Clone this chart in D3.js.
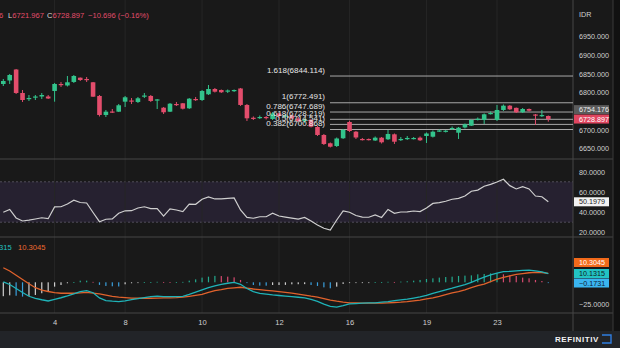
<!DOCTYPE html>
<html>
<head>
<meta charset="utf-8">
<script src="https://cdn.jsdelivr.net/npm/d3@7/dist/d3.min.js"></script>
<style>
html,body{margin:0;padding:0;background:#191919;overflow:hidden;}
svg{display:block;}
text{font-family:'Liberation Sans',Arial,sans-serif;}
</style>
</head>
<body>
<svg id="chart" width="620" height="348"></svg>
<script>
// ---------- DATA ----------
const openP=[6822.8,6832.2,6861.6,6798.7,6782.6,6786.7,6789.3,6789.3,6804.1,6822.8,
 6818.8,6828.2,6839.7,6836.2,6827.4,6790.7,6739.8,6749.1,6748.6,6775.4,
 6778.6,6774.6,6790.1,6790.7,6779.4,6759.3,6748.6,6769.2,6771.1,6757.7,
 6782.6,6779.9,6795.2,6809.4,6806.7,6803.3,6805.1,6810.8,6766.6,6732.4,
 6731.5,6734.4,6729.1,6743.8,6735.8,6738.4,6730.4,6723.7,6726.4,6707.6,
 6686.2,6664.0,6656.7,6677.4,6721.0,6695.0,6675.5,6675.5,6671.5,6679.0,
 6674.7,6688.0,6673.3,6676.0,6676.0,6679.0,6683.5,6681.6,6696.4,6695.6,
 6702.3,6692.3,6706.3,6711.1,6727.2,6726.4,6742.4,6726.4,6753.2,6764.7,
 6758.9,6747.0,6755.8,6741.1,6737.5,6737.1];
const closeP=[6830.8,6846.9,6798.7,6779.9,6785.3,6789.3,6793.3,6784.0,6822.8,6820.1,
 6827.4,6844.2,6833.5,6833.5,6788.8,6739.8,6748.6,6747.8,6765.8,6787.2,
 6775.9,6784.5,6791.9,6777.3,6781.5,6747.0,6770.0,6766.6,6756.6,6783.4,
 6780.5,6804.1,6809.4,6802.2,6800.6,6805.4,6806.7,6766.6,6730.9,6731.2,
 6734.4,6731.7,6743.8,6737.1,6738.4,6730.4,6723.7,6727.7,6708.4,6686.2,
 6662.1,6654.8,6676.8,6699.6,6696.9,6679.5,6673.3,6673.3,6679.0,6666.6,
 6688.9,6668.2,6675.5,6678.2,6678.2,6672.0,6690.2,6695.0,6698.3,6697.7,
 6704.9,6705.7,6714.9,6726.4,6729.6,6741.6,6745.1,6753.2,6764.7,6755.0,
 6747.0,6755.8,6751.3,6738.9,6739.593,6728.897];
const highP=[6836.2,6849.6,6863.0,6806.7,6793.3,6793.3,6798.7,6793.3,6825.5,6828.2,
 6844.2,6846.9,6840.2,6841.5,6828.2,6793.3,6753.2,6755.8,6769.2,6790.7,
 6785.3,6788.0,6798.7,6793.3,6782.6,6761.2,6771.9,6774.6,6771.9,6785.3,
 6788.0,6806.7,6820.1,6812.1,6808.1,6808.1,6808.1,6812.1,6769.2,6735.8,
 6738.4,6737.1,6747.8,6746.4,6742.4,6741.1,6734.4,6730.4,6729.1,6710.3,
 6688.9,6666.1,6679.5,6702.3,6724.5,6696.9,6678.2,6676.8,6682.2,6680.8,
 6699.6,6690.2,6680.8,6683.5,6680.8,6682.2,6692.9,6698.3,6700.9,6699.6,
 6708.9,6707.6,6717.0,6727.7,6733.1,6743.8,6749.1,6766.6,6767.9,6766.6,
 6759.8,6758.5,6757.2,6742.4,6753.2,6738.4];
const lowP=[6817.4,6822.8,6796.0,6774.6,6777.3,6779.9,6782.6,6782.6,6775.4,6814.8,
 6816.1,6825.5,6830.8,6828.2,6788.0,6735.8,6734.4,6745.1,6747.8,6761.2,
 6769.2,6771.9,6785.3,6774.6,6755.8,6742.4,6747.8,6763.9,6754.5,6755.8,
 6777.3,6777.3,6793.3,6800.0,6798.7,6798.7,6801.4,6763.9,6723.7,6726.4,
 6729.1,6727.7,6726.4,6731.7,6731.7,6727.7,6721.0,6718.3,6706.3,6683.5,
 6659.4,6652.7,6654.0,6675.5,6694.2,6675.5,6671.5,6671.5,6670.1,6663.4,
 6672.8,6662.1,6670.1,6672.8,6674.2,6670.1,6664.8,6679.5,6694.2,6692.9,
 6699.6,6675.5,6703.6,6710.3,6725.0,6715.7,6741.1,6723.7,6750.5,6753.2,
 6745.1,6745.1,6749.1,6713.0,6734.4,6721.967];
const rsi=[39.8,42.6,34.2,31.2,32.0,33.2,34.4,33.5,45.1,45.3,
 48.0,51.8,49.5,49.0,39.6,30.5,32.9,33.2,38.9,41.3,
 41.4,44.1,45.3,43.4,43.4,36.1,43.1,42.1,40.5,47.8,
 47.7,52.8,55.1,53.0,53.0,53.5,54.0,42.1,34.7,33.9,
 35.4,35.4,38.9,36.1,35.0,34.0,33.0,34.7,31.2,27.2,
 24.0,22.3,32.2,41.1,39.9,36.6,35.1,34.9,37.3,34.7,
 42.6,38.8,40.1,40.3,41.1,40.5,44.1,48.6,49.4,50.7,
 52.7,53.6,55.9,60.7,61.8,65.6,67.4,69.8,72.5,66.2,
 62.9,65.1,62.9,55.9,55.2,50.1979];
const macd=[0.6,-2.5,-7.1,-11.7,-16.1,-18.4,-20.1,-21.5,-19.7,-17.8,
 -15.7,-13.4,-10.7,-9.7,-12.0,-18.0,-21.0,-21.8,-22.3,-21.3,
 -20.0,-18.9,-17.6,-16.6,-16.0,-16.6,-16.6,-16.6,-16.1,-13.8,
 -11.3,-8.7,-6.1,-4.0,-2.5,-1.1,-0.2,-2.3,-7.2,-10.8,
 -12.8,-13.6,-14.5,-15.2,-15.9,-16.6,-17.2,-18.0,-19.8,-22.0,
 -25.2,-27.7,-28.7,-26.9,-24.8,-24.5,-24.1,-23.8,-23.6,-22.9,
 -22.2,-21.0,-20.3,-19.5,-18.2,-16.9,-15.1,-12.8,-10.7,-8.7,
 -6.8,-4.7,-2.8,0.0,3.1,5.9,8.5,10.7,12.2,12.6,
 13.2,13.7,14.1,13.1,12.0,10.1315];
const signal=[16.8,13.0,8.2,3.2,-1.7,-6.2,-8.9,-10.6,-11.8,-12.6,
 -12.6,-12.6,-12.2,-11.6,-12.4,-13.3,-14.7,-16.1,-17.0,-17.6,
 -18.2,-18.4,-18.4,-18.4,-18.3,-18.0,-17.9,-17.7,-17.0,-16.1,
 -15.1,-14.0,-11.7,-9.5,-8.4,-7.1,-6.4,-5.7,-6.6,-7.7,
 -8.5,-9.2,-9.9,-10.7,-11.5,-12.5,-13.7,-14.8,-16.0,-17.0,
 -18.7,-20.6,-21.8,-22.8,-23.6,-23.8,-23.9,-24.1,-24.0,-23.9,
 -23.6,-23.3,-22.9,-22.3,-21.4,-20.5,-19.2,-17.9,-16.1,-14.1,
 -12.3,-10.8,-8.6,-6.2,-3.9,-2.0,0.8,3.6,5.7,7.4,
 9.1,10.1,11.0,11.5,11.3,10.3045];
const hist=[-16.0,-15.0,-15.5,-16.5,-15.7,-14.6,-12.6,-10.7,-5.0,-3.1,
 -1.1,0.3,1.9,1.9,0.5,-3.0,-4.2,-4.6,-4.8,-2.3,
 -1.1,-0.4,0.2,0.3,0.6,0.4,0.3,0.3,0.5,1.9,
 3.4,5.4,6.5,7.4,7.2,6.5,5.7,2.7,-0.5,-3.1,
 -3.8,-3.9,-3.1,-3.1,-3.0,-2.3,-2.2,-2.1,-3.1,-4.2,
 -5.8,-6.9,-5.0,-1.9,-0.8,-0.5,-0.3,-0.2,0.2,0.3,
 0.6,0.4,0.8,1.2,1.9,2.7,3.8,4.6,5.4,6.1,
 6.5,7.3,7.7,8.0,9.2,9.6,10.3,10.5,9.2,8.0,
 7.3,5.4,4.6,2.7,1.5,-0.1731];
const tickIdx=[8,19,31,43,54,66,77];
const tickLabels=["4","8","10","12","16","19","23"];
const priceTicks=[6650,6700,6800,6850,6900,6950];
const rsiTicks=[20,40,60,80];
const macdTicks=[-25];
const fibRatios=["1.618","1","0.786","0.618","0.5","0.382"];
const fibPrices=[6844.114,6772.491,6747.689,6728.219,6714.541,6700.868];
const refPrice=6754.176;
const lastClose=6728.897;

// ---------- DRAW ----------
const svg=d3.select("#chart");
const PR=573;
const GREEN="#33c48c", RED="#e34d6c";
svg.append("rect").attr("width",620).attr("height",348).attr("fill","#191919");
svg.append("rect").attr("x",613).attr("width",7).attr("height",331).attr("fill","#111111");
svg.append("rect").attr("y",331).attr("width",620).attr("height",17).attr("fill","#222428");

const x=d3.scalePoint().domain(d3.range(openP.length)).range([3.3,548.3]);
const yP=d3.scaleLinear().domain([6650,6950]).range([148.5,36.5]);
const yR=d3.scaleLinear().domain([20,80]).range([232.3,171.7]);
const yM=d3.scaleLinear().domain([-25,0]).range([304,282.3]);

const defs=svg.append("defs");
defs.append("clipPath").attr("id","cMain").append("rect").attr("x",0).attr("y",0).attr("width",PR).attr("height",158);
defs.append("clipPath").attr("id","cRsi").append("rect").attr("x",0).attr("y",160).attr("width",PR).attr("height",76);
defs.append("clipPath").attr("id","cMacd").append("rect").attr("x",0).attr("y",238).attr("width",PR).attr("height",74);

// RSI band
svg.append("rect").attr("x",0).attr("width",PR).attr("y",yR(70)).attr("height",yR(30)-yR(70)).attr("fill","#262130");
[70,30].forEach(v=>svg.append("line").attr("x1",0).attr("x2",PR).attr("y1",yR(v)).attr("y2",yR(v))
  .attr("stroke","#5d5a68").attr("stroke-dasharray","2,2").attr("stroke-width",0.8));

// vertical grid
const grid=svg.append("g");
tickIdx.forEach(i=>grid.append("line").attr("x1",x(i)).attr("x2",x(i)).attr("y1",0).attr("y2",313)
  .attr("stroke","#262626").attr("stroke-width",1));

// separators
[159,237,313].forEach(y=>svg.append("line").attr("x1",0).attr("x2",613).attr("y1",y).attr("y2",y).attr("stroke","#474747"));
svg.append("line").attr("x1",PR).attr("x2",PR).attr("y1",0).attr("y2",331).attr("stroke","#474747");
svg.append("line").attr("x1",613).attr("x2",613).attr("y1",0).attr("y2",331).attr("stroke","#3a3a3a");

// fib lines
const gMain=svg.append("g").attr("clip-path","url(#cMain)");
fibPrices.forEach((p,i)=>{
  gMain.append("line").attr("x1",330).attr("x2",PR).attr("y1",yP(p)).attr("y2",yP(p))
    .attr("stroke","#a8a8a8").attr("stroke-width",1);
});

// candles
const idx=d3.range(openP.length);
const cg=gMain.append("g");
cg.selectAll("line.w").data(idx).join("line").attr("class","w")
  .attr("x1",i=>x(i)).attr("x2",i=>x(i)).attr("y1",i=>yP(highP[i])).attr("y2",i=>yP(lowP[i]))
  .attr("stroke",i=>closeP[i]>=openP[i]?GREEN:RED).attr("stroke-width",1);
cg.selectAll("rect.b").data(idx).join("rect").attr("class","b")
  .attr("x",i=>x(i)-2.3).attr("width",4.6)
  .attr("y",i=>yP(Math.max(openP[i],closeP[i])))
  .attr("height",i=>Math.max(1.2,Math.abs(yP(openP[i])-yP(closeP[i]))))
  .attr("fill",i=>closeP[i]>=openP[i]?GREEN:RED);

// fib labels
fibPrices.forEach((p,i)=>{
  gMain.append("text").attr("x",325).attr("y",yP(p)-6).attr("text-anchor","end").attr("dominant-baseline","central")
    .attr("font-size",8).attr("fill","#e6e6e6").text(fibRatios[i]+"("+d3.format(".3f")(p)+")");
});

// header
const hdr=svg.append("text").attr("y",15).attr("font-size",7.6).attr("dominant-baseline","central");
hdr.append("tspan").attr("x",-1).attr("fill",RED).text("6");
hdr.append("tspan").attr("x",8).attr("fill","#d8d8d8").text("L");
hdr.append("tspan").attr("fill",RED).text("6721.967");
hdr.append("tspan").attr("x",47).attr("fill","#d8d8d8").text("C");
hdr.append("tspan").attr("fill",RED).text("6728.897");
hdr.append("tspan").attr("x",88).attr("fill",RED).text("−10.696 (−0.16%)");

// RSI line
const gR=svg.append("g").attr("clip-path","url(#cRsi)");
gR.append("path").datum(idx).attr("fill","none").attr("stroke","#cfcfcf").attr("stroke-width",1.2)
  .attr("d",d3.line().x(i=>x(i)).y(i=>yR(rsi[i])));

// MACD
const gM=svg.append("g").attr("clip-path","url(#cMacd)");
const colorHist=i=>{
  const v=hist[i], pv=i>0?hist[i-1]:v;
  if(v>=0) return v>=pv?"#23a98e":"#d64a6f";
  return v<pv?"#3a9fdc":"#cfcfcf";
};
gM.selectAll("rect.h").data(idx).join("rect").attr("class","h")
  .attr("x",i=>x(i)-0.6).attr("width",1.2)
  .attr("y",i=>Math.min(yM(0),yM(hist[i])))
  .attr("height",i=>Math.max(0.8,Math.abs(yM(hist[i])-yM(0))))
  .attr("fill",colorHist);
gM.append("path").datum(idx).attr("fill","none").attr("stroke","#e0622c").attr("stroke-width",1.3)
  .attr("d",d3.line().x(i=>x(i)).y(i=>yM(signal[i])));
gM.append("path").datum(idx).attr("fill","none").attr("stroke","#1fb3b8").attr("stroke-width",1.3)
  .attr("d",d3.line().x(i=>x(i)).y(i=>yM(macd[i])));
const ml=svg.append("text").attr("y",247).attr("font-size",7.6).attr("dominant-baseline","central");
ml.append("tspan").attr("x",-1).attr("fill","#22c0c0").text("315");
ml.append("tspan").attr("x",18).attr("fill","#f06a30").text("10.3045");

// right axes
function styleAxis(g){
  g.select(".domain").remove();
  g.selectAll("line").remove();
  g.selectAll("text").attr("font-size",7.2).attr("fill","#d0d0d0").attr("font-family","'Liberation Sans',Arial,sans-serif");
}
svg.append("g").attr("transform","translate(577,0)")
  .call(d3.axisRight(yP).tickValues(priceTicks).tickFormat(d3.format(".3f")).tickSize(0).tickPadding(2)).call(styleAxis);
svg.append("g").attr("transform","translate(577,0)")
  .call(d3.axisRight(yR).tickValues(rsiTicks).tickFormat(d3.format(".4f")).tickSize(0).tickPadding(2)).call(styleAxis);
svg.append("g").attr("transform","translate(577,0)")
  .call(d3.axisRight(yM).tickValues(macdTicks).tickFormat(d3.format(".4f")).tickSize(0).tickPadding(2)).call(styleAxis);
svg.append("text").attr("x",579).attr("y",14).attr("font-size",7.2).attr("fill","#d0d0d0").attr("dominant-baseline","central").text("IDR");

// value boxes
function box(yc,txt,bg,fg){
  svg.append("rect").attr("x",574).attr("y",yc-4.5).attr("width",35).attr("height",9).attr("fill",bg);
  svg.append("text").attr("x",579).attr("y",yc).attr("dominant-baseline","central").attr("font-size",7.2).attr("fill",fg).text(txt);
}
box(yP(refPrice),d3.format(".3f")(refPrice),"#5b5b5b","#f0f0f0");
box(Math.max(yP(lastClose),yP(refPrice)+9),d3.format(".3f")(lastClose),"#e0455f","#ffffff");
box(yR(rsi[rsi.length-1]),d3.format(".4f")(rsi[rsi.length-1]),"#f2f2f2","#222222");
const mY=yM(macd[macd.length-1]);
box(mY-11,d3.format(".4f")(signal[signal.length-1]),"#f26a1b","#ffffff");
box(mY,d3.format(".4f")(macd[macd.length-1]),"#22c3c3","#102020");
box(mY+9.5,d3.format(".4f")(hist[hist.length-1]).replace("-","−"),"#3ab5f0","#102030");

// x axis
svg.append("g").attr("transform","translate(0,313)")
  .call(d3.axisBottom(x).tickValues(tickIdx).tickFormat((d,i)=>tickLabels[i]).tickSize(0).tickPadding(7))
  .call(g=>{g.select(".domain").remove();g.selectAll("text").attr("font-size",7.6).attr("fill","#d0d0d0")
    .attr("font-family","'Liberation Sans',Arial,sans-serif");});

// logo
svg.append("text").attr("x",599).attr("y",339).attr("text-anchor","end").attr("dominant-baseline","central")
  .attr("font-size",8).attr("font-weight","bold").attr("letter-spacing",0.6).attr("fill","#f2f2f2").text("REFINITIV");
svg.append("path").attr("d","M602,335 h9 v8 h-9").attr("fill","none").attr("stroke","#2f7de0").attr("stroke-width",1.4);
</script>
</body>
</html>
